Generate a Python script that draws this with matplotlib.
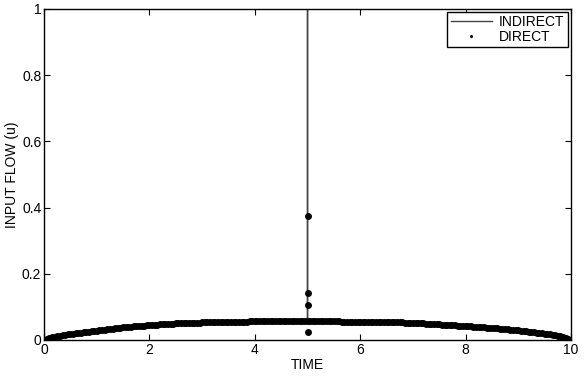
import numpy as np
import matplotlib
matplotlib.use("Agg")
import matplotlib.pyplot as plt

plt.rcParams['font.family'] = ['Liberation Sans', 'DejaVu Sans']

# direct method : u sampled every 0.05 s (t = 0 ... 10)
t_direct = np.linspace(0, 10, 201)
u_direct = [0.000,
            0.004, 0.006, 0.008, 0.010, 0.0115, 0.013, 0.0145, 0.016, 0.017, 0.018,
            0.019, 0.020, 0.021, 0.022, 0.023, 0.024, 0.025, 0.026, 0.027, 0.028,
            0.029, 0.030, 0.031, 0.032, 0.033, 0.034, 0.035, 0.036, 0.037, 0.038,
            0.0385, 0.039, 0.040, 0.041, 0.0415, 0.042, 0.0425, 0.043, 0.044, 0.045,
            0.0455, 0.046, 0.0465, 0.047, 0.0475, 0.048, 0.0485, 0.049, 0.0495, 0.050,
            0.050, 0.0505, 0.051, 0.051, 0.0515, 0.052, 0.052, 0.0525, 0.0525, 0.053,
            0.053, 0.0535, 0.0535, 0.054, 0.054, 0.054, 0.0545, 0.0545, 0.0545, 0.055,
            0.055, 0.055, 0.055, 0.0555, 0.0555, 0.0555, 0.0555, 0.056, 0.056, 0.056,
            0.056, 0.056, 0.056, 0.056, 0.056, 0.056, 0.056, 0.056, 0.056, 0.056,
            0.056, 0.056, 0.056, 0.056, 0.056, 0.056, 0.056, 0.056, 0.056, 0.056,
            0.056, 0.056, 0.056, 0.056, 0.056, 0.056, 0.056, 0.056, 0.056, 0.056,
            0.056, 0.056, 0.0555, 0.0555, 0.0555, 0.0555, 0.0555, 0.0555, 0.0555, 0.0555,
            0.0555, 0.0555, 0.055, 0.055, 0.055, 0.055, 0.0545, 0.0545, 0.0545, 0.054,
            0.054, 0.054, 0.0535, 0.0535, 0.053, 0.053, 0.0525, 0.0525, 0.052, 0.052,
            0.0515, 0.051, 0.0505, 0.050, 0.0495, 0.049, 0.0485, 0.048, 0.0475, 0.047,
            0.0465, 0.046, 0.0455, 0.045, 0.0445, 0.044, 0.0435, 0.043, 0.0425, 0.042,
            0.0415, 0.041, 0.0405, 0.040, 0.0395, 0.039, 0.038, 0.0375, 0.037, 0.036,
            0.0355, 0.035, 0.034, 0.0335, 0.033, 0.032, 0.031, 0.0305, 0.030, 0.029,
            0.028, 0.027, 0.026, 0.025, 0.024, 0.023, 0.022, 0.021, 0.020, 0.019,
            0.018, 0.017, 0.0155, 0.014, 0.0125, 0.011, 0.009, 0.007, 0.004, 0.000]
# extra direct points at the switching time
t_jump = [5.0, 5.0, 5.0, 5.0]
u_jump = [0.024, 0.106, 0.143, 0.375]

# indirect method
t_indirect = [0, 0.1, 0.3, 0.5, 1, 1.5, 2, 2.5, 3, 3.5, 4, 4.5, 5, 5, 5,
              5.5, 6, 6.5, 7, 7.5, 8, 8.5, 9, 9.5, 9.8, 10]
u_indirect = [0, 0.006, 0.013, 0.018, 0.028, 0.038, 0.045, 0.050, 0.053, 0.0545,
              0.0555, 0.056, 0.056, 1.0, 0.056, 0.056, 0.0555, 0.0545, 0.052, 0.0485,
              0.042, 0.0375, 0.029, 0.018, 0.009, 0]

fig = plt.figure(figsize=(5.88, 3.85), dpi=100)
ax = fig.add_axes([0.075, 0.117, 0.896, 0.860])

ax.plot(t_indirect, u_indirect, color='#444444', linewidth=1.0, label='INDIRECT')
ax.plot(list(t_direct) + t_jump, u_direct + u_jump, linestyle='none', marker='o',
        markersize=5.0, color='black', markeredgewidth=0, label='DIRECT')

ax.set_xlim(0, 10)
ax.set_ylim(0, 1)
ax.set_xticks([0, 2, 4, 6, 8, 10])
ax.set_yticks([0, 0.2, 0.4, 0.6, 0.8, 1])
ax.set_yticklabels(['0', '0.2', '0.4', '0.6', '0.8', '1'])
ax.tick_params(direction='in', top=True, right=True, labelsize=10, length=4, pad=2)
for s in ax.spines.values():
    s.set_linewidth(1.0)

ax.set_xlabel('TIME', fontsize=10, labelpad=1)
ax.set_ylabel('INPUT FLOW (u)', fontsize=10, labelpad=2)

leg = ax.legend(loc='upper right', fontsize=10, fancybox=False, framealpha=1,
                edgecolor='black', borderaxespad=0.2, handlelength=3.0,
                labelspacing=0.05, borderpad=0.25, handletextpad=0.5,
                markerscale=0.45)
leg.get_frame().set_linewidth(1.0)

fig.savefig('out.png', dpi=100)
